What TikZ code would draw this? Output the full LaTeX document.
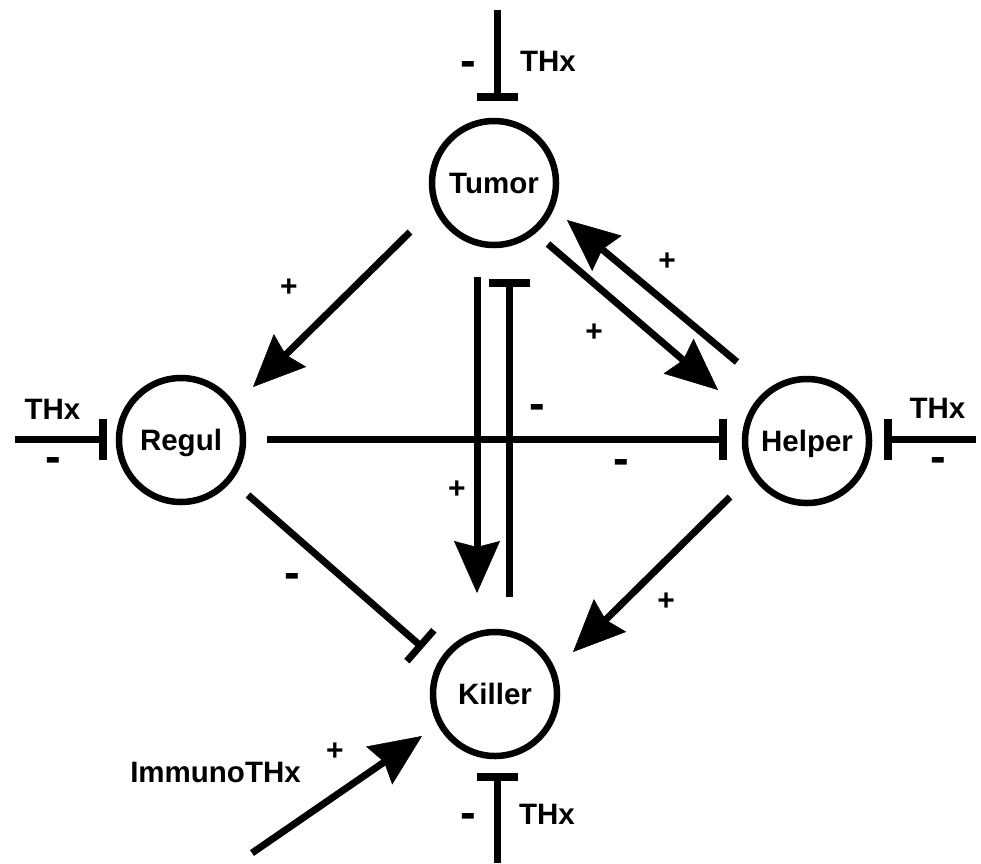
\documentclass[tikz,border=0pt]{standalone}
\usepackage{fontspec}
\setmainfont{Liberation Sans}
\usetikzlibrary{arrows.meta}
\begin{document}
\begin{tikzpicture}[x=1pt,y=-1pt,
  every node/.style={font=\fontsize{29.5}{34}\selectfont\bfseries,inner sep=0pt},
  cell/.style={circle,draw,line width=6.5pt,minimum size=124pt,inner sep=0pt,text depth=0pt},
  link/.style={line width=7pt},
  act/.style={link,-{Stealth[length=52pt,width=46pt,inset=6pt,line width=0.5pt]}},
  inh/.style={link,-{Bar[width=41pt,line width=8pt]}},
  plussign/.style={font=\fontsize{30}{34}\selectfont\bfseries,yshift=-1.7pt},
  minussign/.style={font=\fontsize{47}{50}\selectfont\bfseries,yshift=-4.4pt},
  lbl/.style={font=\fontsize{29.5}{34}\selectfont\bfseries},
]
\useasboundingbox (0,0) rectangle (981,863);

% cells
\node[cell] (tumor) at (494,183) {Tumor};
\node[cell] (regul) at (181,440) {Regul};
\node[cell] (helper) at (807,441) {Helper};
\node[cell] (killer) at (495,694) {Killer};

% connector ends
\coordinate (tTop) at (497,10);
\coordinate (tTopEnd) at (497,101);
\coordinate (kBot) at (497,863);
\coordinate (kBotEnd) at (497,773);
\coordinate (rLeft) at (15,439);
\coordinate (rLeftEnd) at (107,439);
\coordinate (hRight) at (976,439);
\coordinate (hRightEnd) at (884,439);
\coordinate (immuno) at (252,853);
\coordinate (immunoEnd) at (422,736);

\coordinate (tr1) at (410,232);
\coordinate (tr2) at (253,387);
\coordinate (th1) at (548,244);
\coordinate (th2) at (718,390);
\coordinate (ht1) at (737,362);
\coordinate (ht2) at (567,220);
\coordinate (tk1) at (477,277);
\coordinate (tk2) at (477,593);
\coordinate (kt1) at (509,597);
\coordinate (kt2) at (509,279);
\coordinate (rh1) at (267,439);
\coordinate (rh2) at (727,439);
\coordinate (rk1) at (248,495);
\coordinate (rk2) at (423,648);
\coordinate (hk1) at (730,497);
\coordinate (hk2) at (573,652);

% connectors
\draw[inh] (tTop) -- (tTopEnd);
\draw[inh] (kBot) -- (kBotEnd);
\draw[inh] (rLeft) -- (rLeftEnd);
\draw[inh] (hRight) -- (hRightEnd);
\draw[act] (immuno) -- (immunoEnd);
\draw[act] (tr1) -- (tr2);
\draw[act] (th1) -- (th2);
\draw[act] (ht1) -- (ht2);
\draw[act] (tk1) -- (tk2);
\draw[inh] (kt1) -- (kt2);
\draw[inh] (rh1) -- (rh2);
\draw[link,-{Bar[width=41pt,line width=7pt]}] (rk1) -- (rk2);
\draw[act] (hk1) -- (hk2);

% labels
\node[lbl] (thxTop) at (548,61) {THx};
\node[minussign] (mTop) at (468,65) {-};
\node[lbl] (thxBot) at (547,814) {THx};
\node[minussign] (mBot) at (468,817) {-};
\node[lbl] (thxLeft) at (52.5,409) {THx};
\node[minussign] (mLeft) at (53,461) {-};
\node[lbl] (thxRight) at (937.5,408.5) {THx};
\node[minussign] (mRight) at (938,461) {-};
\node[lbl] (immunoLbl) at (215.5,772.5) {ImmunoTHx};

\node[plussign] (pTR) at (289,286) {+};
\node[plussign] (pTH) at (594,331) {+};
\node[plussign] (pHT) at (667,260) {+};
\node[plussign] (pTK) at (457,488) {+};
\node[plussign] (pHK) at (666,600) {+};
\node[plussign] (pIm) at (335,750) {+};
\node[minussign] (mKT) at (537.5,408) {-};
\node[minussign] (mRH) at (621,463) {-};
\node[minussign] (mRK) at (292,577) {-};
\end{tikzpicture}
\end{document}
